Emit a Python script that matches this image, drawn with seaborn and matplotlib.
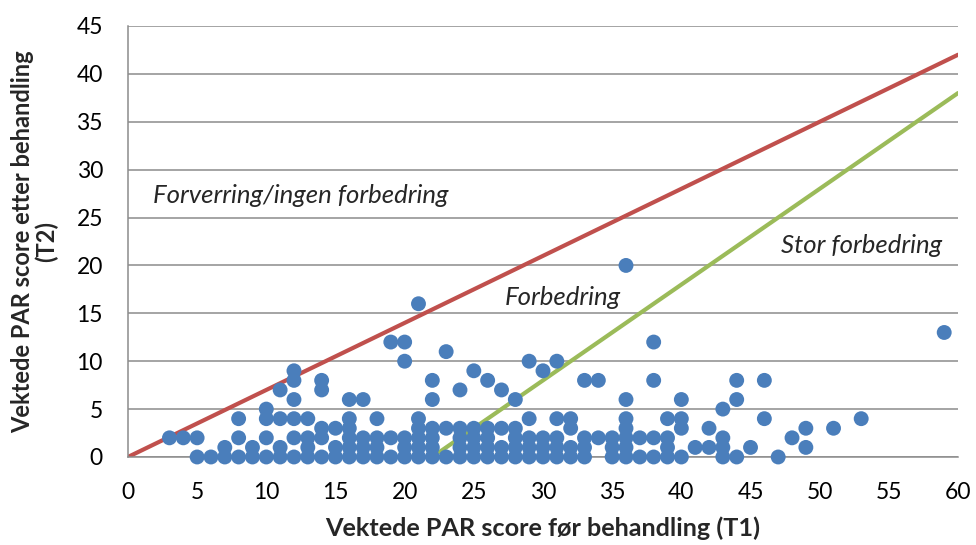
import matplotlib
matplotlib.use("Agg")
import matplotlib.pyplot as plt
import seaborn as sns
import pandas as pd
import numpy as np
from matplotlib.ticker import MultipleLocator

# Data: T1 (before) and T2 (after) weighted PAR scores
t1 = [3, 4, 5, 5, 6, 7, 7, 8, 8, 8, 9, 9,
      10, 10, 10, 10, 11, 11, 11, 11, 12, 12, 12, 12, 12, 12,
      13, 13, 13, 13, 14, 14, 14, 14, 14, 15, 15, 15,
      16, 16, 16, 16, 16, 16, 17, 17, 17, 17, 18, 18, 18, 18,
      19, 19, 19, 20, 20, 20, 20, 20,
      21, 21, 21, 21, 21, 21, 22, 22, 22, 22, 22, 22, 23, 23, 23,
      24, 24, 24, 24, 24, 25, 25, 25, 25, 25, 26, 26, 26, 26, 26,
      27, 27, 27, 27, 28, 28, 28, 28, 28, 29, 29, 29, 29, 29,
      30, 30, 30, 30, 31, 31, 31, 31, 31, 32, 32, 32, 32,
      33, 33, 33, 33, 34, 34, 35, 35, 35,
      36, 36, 36, 36, 36, 36, 36, 37, 37, 38, 38, 38, 38,
      39, 39, 39, 39, 40, 40, 40, 40, 41, 42, 42, 43, 43, 43, 43,
      44, 44, 44, 45, 46, 46, 47, 48, 49, 49, 51, 53, 59]
t2 = [2, 2, 2, 0, 0, 1, 0, 4, 2, 0, 1, 0,
      5, 4, 2, 0, 7, 4, 1, 0, 9, 8, 6, 4, 2, 0,
      4, 2, 1, 0, 8, 7, 3, 2, 0, 3, 1, 0,
      6, 4, 3, 2, 1, 0, 6, 2, 1, 0, 4, 2, 1, 0,
      12, 2, 0, 12, 10, 2, 1, 0,
      16, 4, 3, 2, 1, 0, 8, 6, 3, 2, 1, 0, 11, 3, 0,
      7, 3, 2, 1, 0, 9, 3, 2, 1, 0, 8, 3, 2, 1, 0,
      7, 3, 1, 0, 6, 3, 2, 1, 0, 10, 4, 2, 1, 0,
      9, 2, 1, 0, 10, 4, 2, 1, 0, 4, 3, 1, 0,
      8, 2, 1, 0, 8, 2, 2, 1, 0,
      20, 6, 4, 3, 2, 1, 0, 2, 0, 12, 8, 2, 0,
      4, 2, 1, 0, 6, 4, 3, 0, 1, 3, 1, 5, 2, 1, 0,
      8, 6, 0, 1, 8, 4, 0, 2, 3, 1, 3, 4, 13]

# Reference lines
red_x = [0, 60]
red_y = [0, 42]
green_x = [22.5, 60]
green_y = [0.5, 38]

labels = ["Forverring/ingen forbedring", "Forbedring", "Stor forbedring"]
xlabel = "Vektede PAR score før behandling (T1)"
ylabel = "Vektede PAR score etter behandling\n(T2)"

sns.set_style("white")
plt.rcParams['font.family'] = ['Lato', 'DejaVu Sans']

fig = plt.figure(figsize=(9.76, 5.45), dpi=100)
ax = fig.add_axes([0.1311, 0.1615, 0.8505, 0.7908])

df = pd.DataFrame({"T1": t1, "T2": t2})
sns.lineplot(x=red_x, y=red_y, ax=ax, color="#C0504D", linewidth=3.0, zorder=2)
sns.lineplot(x=green_x, y=green_y, ax=ax, color="#9BBB59", linewidth=3.0, zorder=2)
sns.scatterplot(data=df, x="T1", y="T2", ax=ax, color="#4A7EBB", s=115,
                edgecolor="none", linewidth=0, zorder=3, clip_on=False)

ax.set_xlim(0, 60)
ax.set_ylim(0, 45)
ax.xaxis.set_major_locator(MultipleLocator(5))
ax.xaxis.set_minor_locator(MultipleLocator(1))
ax.yaxis.set_major_locator(MultipleLocator(5))

ax.grid(axis="y", which="major", color="#8C8C8C", linewidth=1.1, zorder=0)
ax.grid(axis="x", visible=False)
ax.set_axisbelow(True)

for s in ["top", "right"]:
    ax.spines[s].set_visible(False)
for s in ["left", "bottom"]:
    ax.spines[s].set_color("#8C8C8C")
    ax.spines[s].set_linewidth(1.1)

ax.tick_params(axis="both", which="major", direction="out", length=6, width=1.1,
               color="#8C8C8C", labelsize=16.5, labelcolor="black")
ax.tick_params(axis="x", which="minor", direction="out", length=4, width=1.1,
               color="#8C8C8C")
ax.tick_params(axis="y", which="major", pad=12)
ax.tick_params(axis="x", which="major", pad=12)

ax.set_xlabel(xlabel, fontsize=18.2, fontweight="bold", labelpad=10)
ax.set_ylabel(ylabel, fontsize=17, fontweight="bold", labelpad=13, linespacing=1.05)

ax.text(1.8, 27.3, labels[0], fontsize=18.5, style="italic", va="center", ha="left")
ax.text(31.4, 16.7, labels[1], fontsize=18.5, style="italic", va="center", ha="center")
ax.text(53.0, 22.1, labels[2], fontsize=18.5, style="italic", va="center", ha="center")

fig.savefig("out.png", dpi=100)
